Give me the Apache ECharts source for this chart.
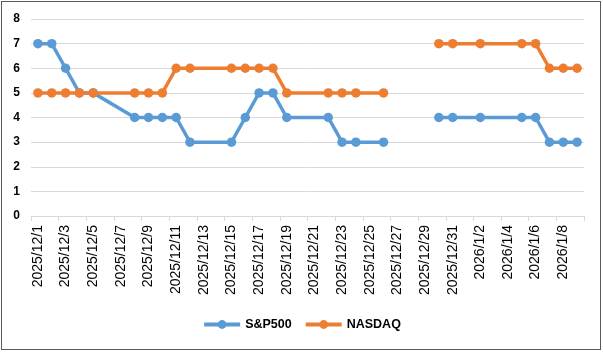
<!DOCTYPE html>
<html>
<head>
<meta charset="utf-8">
<script src="https://cdn.jsdelivr.net/npm/echarts@6/dist/echarts.min.js"></script>
<style>
  html, body { margin: 0; padding: 0; background: #fff; }
  #frame { position: absolute; left: 1px; top: 1px; width: 600px; height: 349px; border: 1px solid #5a5a5a; box-sizing: border-box; }
  #chart { position: absolute; left: 0; top: 0; width: 603px; height: 353px; }
</style>
</head>
<body>
<div id="chart"></div>
<div id="frame"></div>
<script>
// every calendar day on the date axis
const days = [
  '2025/12/1', '2025/12/2', '2025/12/3', '2025/12/4', '2025/12/5', '2025/12/6', '2025/12/7',
  '2025/12/8', '2025/12/9', '2025/12/10', '2025/12/11', '2025/12/12', '2025/12/13', '2025/12/14',
  '2025/12/15', '2025/12/16', '2025/12/17', '2025/12/18', '2025/12/19', '2025/12/20', '2025/12/21',
  '2025/12/22', '2025/12/23', '2025/12/24', '2025/12/25', '2025/12/26', '2025/12/27', '2025/12/28',
  '2025/12/29', '2025/12/30', '2025/12/31', '2026/1/1', '2026/1/2', '2026/1/3', '2026/1/4',
  '2026/1/5', '2026/1/6', '2026/1/7', '2026/1/8', '2026/1/9'
];

// rows present in the sheet (null = blank cell)
const tradeDays = [
  '2025/12/1', '2025/12/2', '2025/12/3', '2025/12/4', '2025/12/5',
  '2025/12/8', '2025/12/9', '2025/12/10', '2025/12/11', '2025/12/12',
  '2025/12/15', '2025/12/16', '2025/12/17', '2025/12/18', '2025/12/19',
  '2025/12/22', '2025/12/23', '2025/12/24', '2025/12/26',
  '2025/12/29', '2025/12/30', '2025/12/31', '2026/1/2',
  '2026/1/5', '2026/1/6', '2026/1/7', '2026/1/8', '2026/1/9'
];
const sp500 = [7, 7, 6, 5, 5, 4, 4, 4, 4, 3, 3, 4, 5, 5, 4, 4, 3, 3, 3, null, 4, 4, 4, 4, 4, 3, 3, 3];
const nasdaq = [5, 5, 5, 5, 5, 5, 5, 5, 6, 6, 6, 6, 6, 6, 5, 5, 5, 5, 5, null, 7, 7, 7, 7, 7, 6, 6, 6];

const toPairs = vals => tradeDays.map((d, k) => [days.indexOf(d), vals[k] == null ? '-' : vals[k]]);

const chart = echarts.init(document.getElementById('chart'));
const font = 'Liberation Sans, Arial, sans-serif';

const lineSeries = (name, vals, color) => ({
  name: name,
  type: 'line',
  data: toPairs(vals),
  symbol: 'circle',
  symbolSize: 9.5,
  showAllSymbol: true,
  lineStyle: { color: color, width: 3.5 },
  itemStyle: { color: color },
  emphasis: { disabled: true },
  animation: false
});

chart.setOption({
  backgroundColor: '#fff',
  animation: false,
  grid: { left: 31, right: 19, top: 19, bottom: 137, containLabel: false },
  legend: {
    bottom: 17,
    left: 'center',
    itemWidth: 36,
    itemHeight: 11,
    itemGap: 12,
    lineStyle: { width: 4 },
    textStyle: { fontFamily: font, fontWeight: 'bold', fontSize: 12.5, color: '#000' },
    data: ['S&P500', 'NASDAQ']
  },
  xAxis: {
    type: 'category',
    data: days,
    boundaryGap: true,
    axisLine: { lineStyle: { color: '#d9d9d9', width: 1 } },
    axisTick: { show: true, interval: 1, length: 5, lineStyle: { color: '#d9d9d9' } },
    axisLabel: {
      interval: 1,
      rotate: 90,
      margin: 9,
      fontFamily: font,
      fontSize: 14,
      color: '#000'
    },
    splitLine: { show: false }
  },
  yAxis: {
    type: 'value',
    min: 0,
    max: 8,
    interval: 1,
    axisLine: { show: false },
    axisTick: { show: false },
    axisLabel: { margin: 11, fontFamily: font, fontWeight: 'bold', fontSize: 12, color: '#000' },
    splitLine: { lineStyle: { color: '#d9d9d9', width: 1 } }
  },
  series: [
    lineSeries('S&P500', sp500, '#5b9bd5'),
    lineSeries('NASDAQ', nasdaq, '#ed7d31')
  ]
});
</script>
</body>
</html>
